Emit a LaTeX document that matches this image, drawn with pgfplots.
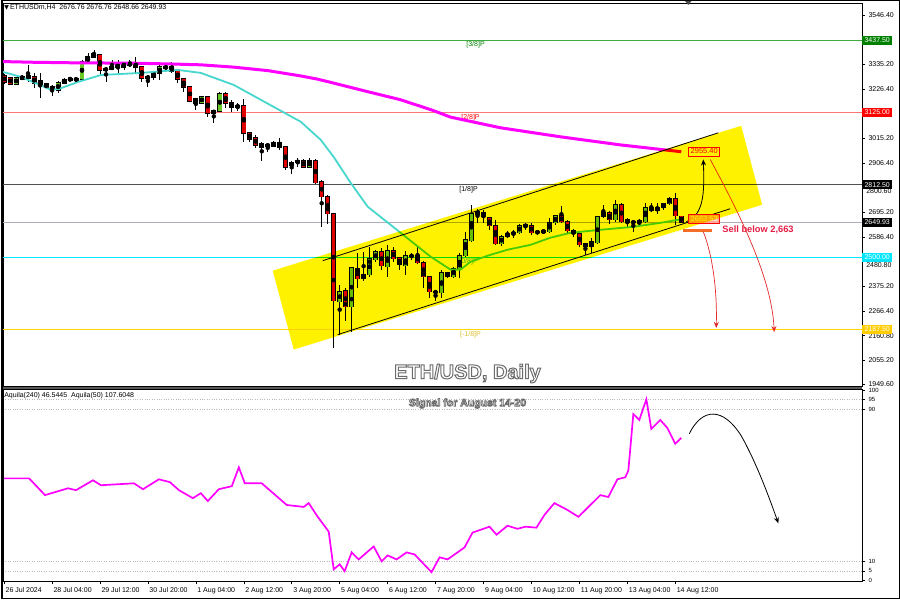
\documentclass[border=0pt]{standalone}
\usepackage{pgfplots}
\pgfplotsset{compat=1.18}
\usepackage{pgfplotstable}
\usepackage{fontspec}
\setmainfont{Liberation Sans}
\newfontfamily\dejavu{DejaVu Sans}
\usetikzlibrary{arrows.meta}

\definecolor{cgreen}{RGB}{105,200,40}
\definecolor{cred}{RGB}{225,0,0}
\definecolor{magentaMA}{RGB}{255,0,255}
\definecolor{cyanMA}{RGB}{72,215,205}
\definecolor{lvgreen}{RGB}{60,170,60}
\definecolor{lvred}{RGB}{255,120,120}
\definecolor{lvdark}{RGB}{80,80,80}
\definecolor{lvgray}{RGB}{170,175,185}
\definecolor{lvcyan}{RGB}{0,230,255}
\definecolor{lvgold}{RGB}{255,215,0}
\definecolor{boxgreen}{RGB}{0,128,0}
\definecolor{sellred}{RGB}{230,30,70}
\definecolor{orangeline}{RGB}{245,110,40}
\definecolor{arrred}{RGB}{230,40,40}
\definecolor{txtgold}{RGB}{220,190,40}

% i o h l c  (green candles)
\pgfplotstableread{
i o h l c
2 3248.6 3278.8 3244.2 3274.5
3 3270.1 3287.4 3265.8 3278.8
4 3274.5 3330.6 3257.2 3283.1
9 3222.7 3261.5 3209.7 3252.9
10 3252.9 3274.5 3248.6 3265.8
11 3265.8 3278.8 3261.5 3270.1
12 3265.8 3274.5 3261.5 3270.1
13 3270.1 3352.1 3265.8 3343.5
14 3343.5 3382.4 3339.2 3365.1
15 3365.1 3395.3 3360.8 3378.0
17 3309.0 3321.9 3257.2 3313.3
18 3313.3 3352.1 3309.0 3321.9
20 3321.9 3343.5 3309.0 3339.2
24 3274.5 3287.4 3235.6 3278.8
25 3278.8 3300.3 3265.8 3296.0
26 3296.0 3339.2 3265.8 3321.9
27 3317.6 3334.9 3304.7 3321.9
33 3166.6 3196.8 3162.2 3192.5
36 3132.0 3214.0 3127.7 3205.4
39 3149.3 3166.6 3132.0 3153.6
45 2981.0 3002.5 2976.6 2993.9
48 2894.7 2916.2 2860.1 2907.6
49 2907.6 2929.2 2890.3 2916.2
51 2890.3 2929.2 2886.0 2916.2
56 2307.7 2381.0 2165.2 2350.8
58 2286.1 2458.7 2178.2 2454.4
60 2406.9 2523.5 2398.3 2424.2
61 2424.2 2545.0 2415.6 2493.3
62 2489.0 2532.1 2480.3 2523.5
64 2458.7 2553.7 2415.6 2527.8
67 2463.1 2527.8 2424.2 2506.2
73 2346.5 2445.8 2324.9 2432.8
75 2415.6 2458.7 2411.2 2450.1
76 2450.1 2519.2 2411.2 2506.2
77 2506.2 2609.8 2501.9 2575.3
78 2570.9 2726.3 2566.6 2687.5
79 2683.2 2709.1 2648.6 2696.1
83 2558.0 2596.8 2549.4 2588.2
84 2588.2 2614.1 2583.9 2601.2
85 2601.2 2618.4 2583.9 2605.5
86 2605.5 2644.3 2601.2 2635.7
90 2605.5 2622.7 2601.2 2614.1
91 2609.8 2670.2 2605.5 2648.6
92 2648.6 2683.2 2640.0 2678.8
98 2545.0 2583.9 2519.2 2566.6
99 2562.3 2678.8 2558.0 2674.5
100 2674.5 2726.3 2670.2 2691.8
102 2661.6 2747.9 2652.9 2726.3
106 2648.6 2665.9 2631.4 2657.3
107 2652.9 2735.0 2648.6 2713.4
109 2700.4 2735.0 2687.5 2713.4
110 2713.4 2735.0 2704.7 2730.6
111 2730.6 2760.8 2726.3 2752.2
}\greenc

% red candles
\pgfplotstableread{
i o h l c
0 3283.1 3291.7 3248.6 3257.2
1 3274.5 3278.8 3244.2 3248.6
5 3278.8 3296.0 3231.3 3252.9
6 3261.5 3296.0 3188.1 3248.6
7 3248.6 3252.9 3227.0 3235.6
8 3235.6 3244.2 3196.8 3227.0
16 3373.7 3378.0 3287.4 3309.0
19 3330.6 3352.1 3287.4 3321.9
21 3334.9 3352.1 3321.9 3330.6
22 3339.2 3365.1 3296.0 3321.9
23 3321.9 3326.2 3257.2 3274.5
28 3321.9 3343.5 3296.0 3304.7
29 3304.7 3313.3 3252.9 3270.1
30 3270.1 3274.5 3214.0 3235.6
31 3235.6 3239.9 3170.9 3175.2
32 3183.8 3188.1 3136.3 3166.6
34 3192.5 3196.8 3106.1 3123.4
35 3132.0 3136.3 3080.2 3123.4
37 3205.4 3214.0 3145.0 3166.6
38 3166.6 3179.5 3127.7 3149.3
40 3153.6 3183.8 2998.2 3037.1
41 3037.1 3041.4 2998.2 3011.2
42 3015.5 3028.4 2972.3 2985.3
43 2989.6 2998.2 2916.2 2976.6
44 2985.3 2989.6 2955.1 2981.0
46 2993.9 3015.5 2963.7 2976.6
47 2976.6 2981.0 2877.4 2890.3
50 2916.2 2924.9 2886.0 2890.3
52 2916.2 2924.9 2817.0 2821.3
53 2825.6 2834.2 2631.4 2760.8
54 2760.8 2769.5 2644.3 2687.5
55 2687.5 2691.8 2109.1 2312.0
57 2355.1 2368.1 2225.7 2286.1
59 2450.1 2519.2 2368.1 2406.9
63 2523.5 2540.7 2445.8 2463.1
65 2527.8 2545.0 2480.3 2493.3
66 2497.6 2501.9 2445.8 2467.4
68 2506.2 2519.2 2489.0 2504.0
69 2506.2 2545.0 2471.7 2476.0
70 2476.0 2484.6 2368.1 2415.6
71 2415.6 2419.9 2324.9 2350.8
72 2350.8 2355.1 2312.0 2346.5
74 2432.8 2437.2 2411.2 2415.6
80 2691.8 2704.7 2648.6 2674.5
81 2670.2 2674.5 2618.4 2635.7
82 2635.7 2661.6 2553.7 2558.0
87 2640.0 2648.6 2618.4 2631.4
88 2635.7 2648.6 2596.8 2605.5
89 2609.8 2618.4 2596.8 2605.5
93 2678.8 2722.0 2648.6 2652.9
94 2652.9 2661.6 2601.2 2614.1
95 2614.1 2622.7 2588.2 2601.2
96 2601.2 2605.5 2545.0 2553.7
97 2558.0 2562.3 2510.5 2545.0
101 2691.8 2700.4 2644.3 2661.6
103 2726.3 2735.0 2648.6 2652.9
104 2661.6 2670.2 2631.4 2648.6
105 2652.9 2661.6 2609.8 2648.6
108 2713.4 2735.0 2696.1 2700.4
112 2752.2 2778.1 2640.0 2678.8
113 2676.76 2676.76 2648.66 2649.93
}\redc

\pgfplotstableread{
x p
-0.1667 3300
2.83 3279
7.83 3223
9.17 3227
12.33 3257
16.17 3287
22.83 3296
29 3309
32.83 3296
38.33 3244
45 3149
49.5 3085
52.83 3007
55 2933
57.83 2821
60.67 2718
66.17 2605
71.17 2502
74.5 2446
76.17 2446
77.83 2480
80.67 2506
84 2532
87.83 2553
91.17 2584
94.5 2605
99.5 2618
105 2631
109.5 2648
113 2663.53
}\cyanma

\pgfplotstableread{
x p
-0.1667 3345
5 3342
10.67 3340
16.17 3339
21.67 3338
27.33 3335
32.83 3331
38.33 3321
44 3306
49.5 3283
52.33 3269
55 3252
60.67 3215
66.17 3180
71.67 3133
74.5 3105
82.83 3059
92.83 3020
102.83 2985
113 2955.4
}\magma

\pgfplotstableread{
x v
0 53.6
4.17 53.6
6.83 44.8
10.67 48.4
12 47.4
14.83 52.6
16.17 50
21.67 51
23.17 47.9
25.83 53.1
27.67 51.6
29.17 47.4
31.5 43.2
32.83 45.8
34 41.7
35.83 47.9
38 49.5
39.17 59.4
40.17 51
43 51
47.17 39.6
50 38.6
50.83 40.6
52.33 33.4
54.17 25.6
55 5.8
56 8.4
56.83 4.8
58 14.7
59.17 11
61.67 17.8
63 10
64 13.1
65.5 11
67.17 14.7
68.5 13.6
71.33 4.3
72.67 12.1
74 11
76.83 17.3
78.17 25.1
81 28.2
82.17 24
84 28.7
85.67 27.1
87 28.2
88.83 27.7
90.17 34.4
91.83 40.6
94 37
95.83 33.4
97.33 38
99.5 44.8
100.83 43.8
102.33 53.1
103.67 54.2
104.17 57.8
105 87.4
106 84.3
107.17 95.2
108 79.6
109.5 84.3
110.67 80.1
112 71.8
113 74.9
}\osc

\pgfplotsset{
  panel/.style={scale only axis, anchor=south west,
    xmin=-0.1667, xmax=143.1667,
    axis line style={line width=0.7pt, black},
    tick style={black, line width=0.5pt}, major tick length=3pt,
    tick align=outside, ytick pos=right, yticklabel pos=right, xtick pos=bottom,
    tick label style={font=\fontsize{7}{8}\selectfont},
    clip=false, /pgf/number format/assume math mode=true},
  ebar/.style={only marks, mark=none, error bars/.cd, y dir=both, y explicit,
    error mark=none, error bar style={#1}},
}
\tikzset{
  lvlabel/.style={anchor=north, inner sep=1pt, yshift=-0.5pt, font=\fontsize{7}{8}\selectfont},
  pricebox/.style={anchor=west, text=white, inner sep=0.8pt, minimum height=9pt,
    minimum width=30pt, font=\fontsize{7}{8}\selectfont},
  inbox/.style={draw=red, line width=0.6pt, inner sep=0.8pt, minimum width=31pt,
    minimum height=9pt, font=\fontsize{7.5}{8}\selectfont},
}

\newcommand{\candles}[2]{%
  \addplot[ebar={draw=black, line width=0.9pt}] table[x=i, y expr={(\thisrow{h}+\thisrow{l})/2}, y error expr={(\thisrow{h}-\thisrow{l})/2}] {#1};
  \addplot[ebar={draw=black, line width=5pt}] table[x=i, y expr={(\thisrow{o}+\thisrow{c})/2}, y error expr={abs(\thisrow{c}-\thisrow{o})/2+3}] {#1};
  \addplot[ebar={draw=#2, line width=3.4pt}] table[x=i, y expr={(\thisrow{o}+\thisrow{c})/2}, y error expr={abs(\thisrow{c}-\thisrow{o})/2}] {#1};
}
% outlined text: white fill, grey stroke (PDF text render mode 2)
\newcommand{\outlined}[2]{\special{pdf:literal direct 2 Tr #1 w 0.42 0.42 0.42 RG}#2\special{pdf:literal direct 0 Tr}}

\begin{document}
\begin{tikzpicture}
\fill[white] (0pt,0pt) rectangle (900pt,600pt);

% ---------------- top panel ----------------
\begin{axis}[panel, at={(2pt,213pt)}, width=860pt, height=384pt,
  ymin=1940.8, ymax=3598.2, xtick=\empty,
  ytick={3546.4,3335.2,3226.4,3015.2,2906.4,2800.6,2695.2,2586.4,2480.8,2375.2,2266.4,2160.8,2055.2,1949.6},
  yticklabels={3546.40,3335.20,3226.40,3015.20,2906.40,,2695.20,2586.40,,2375.20,2266.40,2160.80,2055.20,1949.60}]

% level lines
\addplot[lvgreen, line width=1pt] coordinates {(-0.1667,3437.5) (143.1667,3437.5)};
\addplot[lvred, line width=1pt] coordinates {(-0.1667,3125) (143.1667,3125)};
\addplot[lvdark, line width=1.1pt] coordinates {(-0.1667,2812.5) (143.1667,2812.5)};
\addplot[lvgray, line width=1pt] coordinates {(-0.1667,2649.93) (143.1667,2649.93)};
\addplot[lvcyan, line width=1pt] coordinates {(-0.1667,2500) (143.1667,2500)};
\addplot[lvgold, line width=1pt] coordinates {(-0.1667,2187.5) (143.1667,2187.5)};

\node[lvlabel, text=boxgreen] at (axis cs:78.67,3437.5) {[3/8]P};
\node[lvlabel, text=red] at (axis cs:77.83,3125) {[2/8]P};
\node[lvlabel, text=black] at (axis cs:77.5,2812.5) {[1/8]P};
\node[lvlabel, text={rgb,255:red,60;green,200;blue,60}] at (axis cs:77.5,2500) {[0/8]P};
\node[lvlabel, text=txtgold] at (axis cs:77.83,2187.5) {[-1/8]P};

% candles
\candles{\greenc}{cgreen}
\candles{\redc}{cred}

% moving averages
\addplot[cyanMA, line width=1.8pt] table[x=x, y=p] {\cyanma};
\addplot[magentaMA, line width=3pt] table[x=x, y=p] {\magma};

% channel
\addplot[black, line width=0.8pt] coordinates {(53.17,2484.6) (119.17,3037.1)};
\addplot[black, line width=0.8pt] coordinates {(55.67,2165.2) (121.17,2709.1)};

% annotations
\draw[orangeline, line width=2.8pt] (axis cs:113.33,2614.1) -- (axis cs:118.17,2614.1);
\node[anchor=west, text=sellred, font=\bfseries\fontsize{9.3}{11}\selectfont, inner sep=0pt] at (axis cs:119.83,2616) {Sell below 2,663};
\draw[black, line width=0.8pt, -{Stealth[length=6pt,width=5pt]}] (axis cs:113.83,2652.9) .. controls (axis cs:116.7,2683) and (axis cs:116.9,2770) .. (axis cs:116.67,2922);
\draw[arrred, line width=0.7pt, -{Stealth[length=6pt,width=5pt]}] (axis cs:117.83,2922) .. controls (axis cs:122.83,2683) and (axis cs:128.17,2403) .. (axis cs:128.5,2176);
\draw[arrred, line width=0.7pt, -{Stealth[length=6pt,width=5pt]}] (axis cs:116.67,2610) .. controls (axis cs:118.2,2510) and (axis cs:119,2360) .. (axis cs:118.83,2194);
\node[inbox, fill=white, text=red] at (axis cs:116.83,2957) {2955.40};
\node[inbox, fill={rgb,255:red,255;green,170;blue,150}, text=white] at (axis cs:116.83,2663.5) {2663.53};

% yellow channel band (multiply)
\fill[yellow, blend mode=multiply] (axis cs:44.83,2441.5) -- (axis cs:48.33,2100.5) -- (axis cs:126.5,2726.3) -- (axis cs:123,3067.3) -- cycle;

% tick labels partly hidden behind the level boxes
\node[anchor=west, inner sep=1pt, font=\fontsize{7}{8}\selectfont, yshift=-3.5pt, xshift=3pt] at (axis cs:143.1667,2800.6) {2800.60};
\node[anchor=west, inner sep=1pt, font=\fontsize{7}{8}\selectfont, yshift=-3.5pt, xshift=3pt] at (axis cs:143.1667,2480.8) {2480.80};

% right price boxes
\node[pricebox, fill=boxgreen] at (axis cs:143.1667,3437.5) {3437.50};
\node[pricebox, fill=red] at (axis cs:143.1667,3125) {3125.00};
\node[pricebox, fill=black] at (axis cs:143.1667,2812.5) {2812.50};
\node[pricebox, fill=black] at (axis cs:143.1667,2649.93) {2649.93};
\node[pricebox, fill={rgb,255:red,0;green,230;blue,255}] at (axis cs:143.1667,2500) {2500.00};
\node[pricebox, fill={rgb,255:red,255;green,205;blue,0}] at (axis cs:143.1667,2187.5) {2187.50};
\end{axis}

% ---------------- lower panel ----------------
\begin{axis}[panel, at={(2pt,18pt)}, width=860pt, height=192pt,
  ymin=-0.5, ymax=100.3,
  xtick={0,8,16,24,32,40,48,56,64,72,80,88,96,104,112},
  xticklabels={26 Jul 2024,28 Jul 04:00,29 Jul 12:00,30 Jul 20:00,1 Aug 04:00,2 Aug 12:00,3 Aug 20:00,5 Aug 04:00,6 Aug 12:00,7 Aug 20:00,9 Aug 04:00,10 Aug 12:00,11 Aug 20:00,13 Aug 04:00,14 Aug 12:00},
  xticklabel style={anchor=north west, xshift=-2pt},
  ytick={5,10,90,95}, extra y ticks={0,100}, extra y tick style={grid=none},
  yticklabel style={font=\fontsize{6}{7}\selectfont},
  ymajorgrids, major grid style={gray!55, dotted, line width=0.6pt}]
\addplot[magentaMA, line width=1.7pt] table[x=x, y=v] {\osc};
\draw[black, line width=0.8pt, -{Stealth[length=6pt,width=5pt]}] (axis cs:114.33,77) .. controls (axis cs:116.5,91) and (axis cs:120,91) .. (axis cs:123,76) .. controls (axis cs:125.5,62) and (axis cs:127.5,45) .. (axis cs:129.2,30);
\end{axis}

% separator between panels
\draw[gray!70!black, line width=2.2pt] (0pt,211.5pt) -- (862pt,211.5pt);

% header texts
\node[anchor=west, inner sep=0pt, font=\fontsize{7}{8}\selectfont] at (3pt,592pt) {{\dejavu\fontsize{6}{7}\selectfont ▼}\,ETHUSDm,H4\ \ 2676.76 2676.76 2648.66 2649.93};
\node[anchor=west, inner sep=0pt, font=\fontsize{7}{8}\selectfont] at (3pt,204pt) {Aquila(240) 46.5445\ \ Aquila(50) 107.6048};
\fill[gray!60!black] (684pt,600pt) -- (692pt,600pt) -- (688pt,595pt) -- cycle;

% titles (white text with grey outline)
\node[font=\bfseries\fontsize{20}{24}\selectfont, text=white] at (467pt,226pt) {\outlined{1.0}{ETH/USD, Daily}};
\node[font=\bfseries\fontsize{10.5}{12}\selectfont, text=white] at (467pt,196pt) {\outlined{0.8}{Signal for August 14-20}};

% outer frame
\draw[black, line width=1.5pt] (0.75pt,0.75pt) rectangle (899.25pt,599.25pt);
\end{tikzpicture}
\end{document}
